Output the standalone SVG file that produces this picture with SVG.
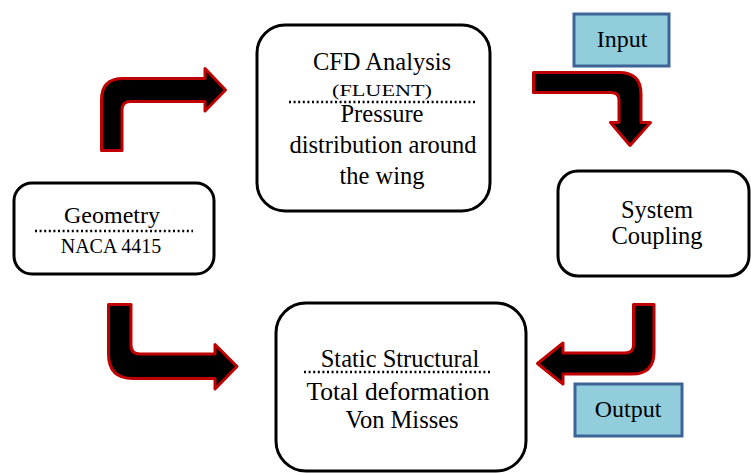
<svg xmlns="http://www.w3.org/2000/svg" width="751" height="473" viewBox="0 0 751 473">
<style>
.node{fill:#fff;stroke:#000;stroke-width:3}
.tag{fill:#92cddc;stroke:#3c6496;stroke-width:3}
.arrow{fill:#000;stroke:#c00000;stroke-width:3;stroke-linejoin:round}
.dot{stroke:#000;stroke-width:2.5;stroke-dasharray:2 2.6;fill:none}
text{fill:#000;text-anchor:middle}
.t{font-size:24.5px}
</style>
<rect width="751" height="473" fill="#fff"/>
<g id="connectors">
<path class="arrow" d="M101.5,150.5 L101.5,100 Q101.5,78.5 123,78.5 L205,78.5 L205,68.5 L225.5,90 L205,111 L205,101.5 L130,101.5 Q122,101.5 122,110 L122,150.5 Z"/>
<path class="arrow" d="M533.5,72.5 L619,72.5 Q641,72.5 641,94 L641,122.5 L650.5,122.5 L630,145.5 L610.5,122.5 L619,122.5 L619,100 Q619,92.5 611,92.5 L533.5,92.5 Z"/>
<path class="arrow" d="M108.5,304.5 L131,304.5 L131,345 Q131,354 140,354 L215,354 L215,344.5 L237,366.5 L215,389 L215,378.5 L133,378.5 Q108.5,378.5 108.5,354 Z"/>
<path class="arrow" d="M654,304.5 L654,352 Q654,374 632,374 L563,374 L563,384 L537.5,363.5 L563,343 L563,353 L625,353 Q633.5,353 633.5,345 L633.5,304.5 Z"/>
</g>
<g font-family="Liberation Serif, DejaVu Serif, serif">
<g id="cfd">
<rect class="node" x="257" y="25" width="233" height="186" rx="28"/>
<text class="t" x="382" y="70">CFD Analysis</text>
<text x="382" y="96" font-size="17" textLength="100" lengthAdjust="spacingAndGlyphs">(FLUENT)</text>
<line class="dot" x1="289" y1="102" x2="477" y2="102"/>
<text class="t" x="382" y="122">Pressure</text>
<text class="t" x="383" y="153">distribution around</text>
<text class="t" x="382" y="184">the wing</text>
</g>
<g id="geometry">
<rect class="node" x="14" y="183" width="200" height="91" rx="18"/>
<text x="112" y="223" font-size="24">Geometry</text>
<line class="dot" x1="35" y1="231" x2="193" y2="231"/>
<text x="111" y="253" font-size="20">NACA 4415</text>
</g>
<g id="static">
<rect class="node" x="276" y="303" width="250" height="168" rx="30"/>
<text class="t" x="400" y="367">Static Structural</text>
<line class="dot" x1="304" y1="372" x2="492" y2="372"/>
<text x="398" y="400" font-size="25.5">Total deformation</text>
<text class="t" x="402" y="428">Von Misses</text>
</g>
<g id="coupling">
<rect class="node" x="558" y="171" width="191" height="105" rx="20"/>
<text class="t" x="657" y="218">System</text>
<text class="t" x="657" y="244">Coupling</text>
</g>
<g id="input">
<rect class="tag" x="574" y="14" width="95" height="52"/>
<text x="622" y="47" font-size="24">Input</text>
</g>
<g id="output">
<rect class="tag" x="575" y="384" width="107" height="52"/>
<text x="628" y="417" font-size="24">Output</text>
</g>
</g>
</svg>
